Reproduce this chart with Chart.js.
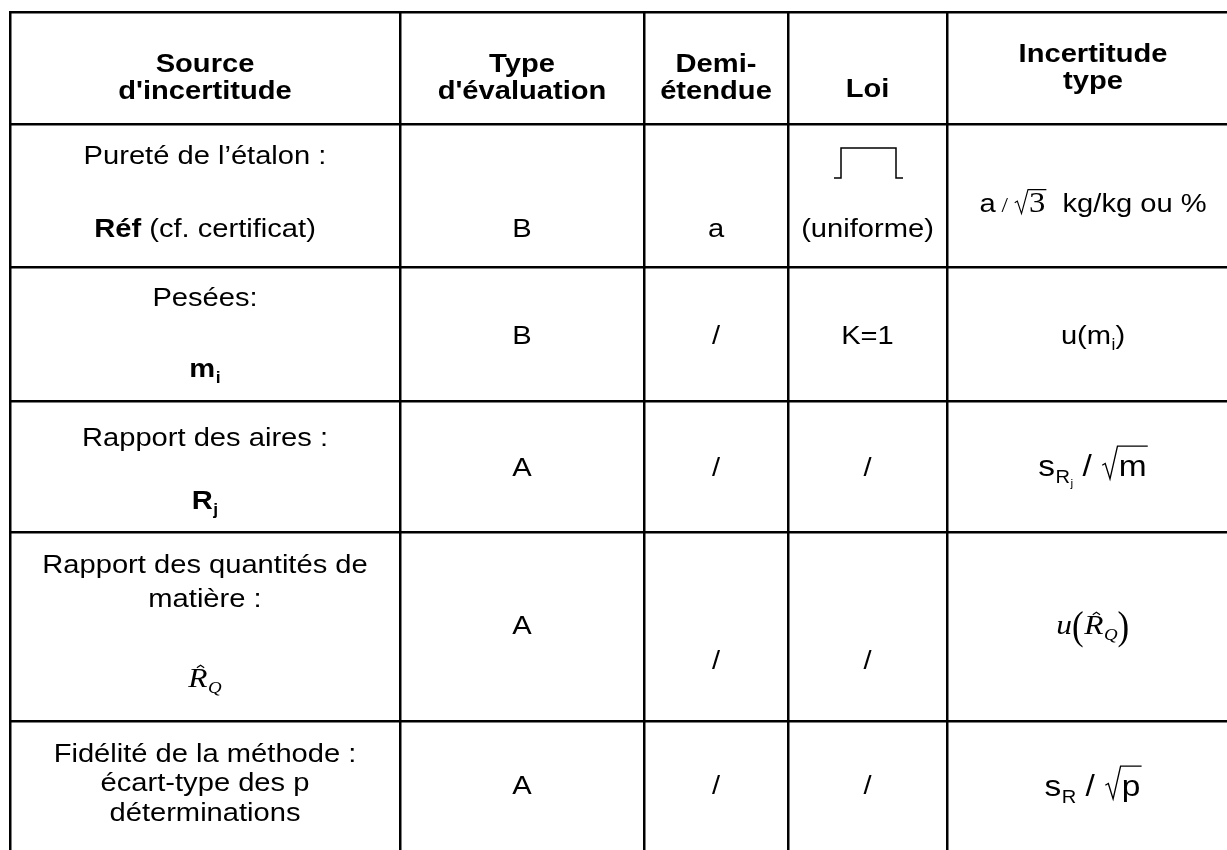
<!DOCTYPE html>
<html><head><meta charset="utf-8">
<script src="https://cdn.jsdelivr.net/npm/chart.js@4.4.1/dist/chart.umd.min.js"></script>
<style>html,body{margin:0;padding:0;background:#fff;}canvas{display:block;}</style>
</head><body>
<canvas id="c" width="1227" height="850"></canvas>
<script>
// ---------------- DATA ----------------
const headerLabels = [["Source","d'incertitude"],["Type","d'évaluation"],["Demi-","étendue"],["Loi"],["Incertitude","type"]];
const uncertaintySources = [
  ["Pureté de l’étalon :","**Réf** (cf. certificat)"],
  ["Pesées:","**m_{i}**"],
  ["Rapport des aires :","**R_{j}**"],
  ["Rapport des quantités de","matière :","$^{R}_{Q}$"],
  ["Fidélité de la méthode :","écart-type des p","déterminations"]
];
const evaluationTypes = ["B","B","A","A","A"];
const halfRanges = ["a","/","/","/","/"];
const distributionLaws = ["(uniforme)","K=1","/","/","/"];
const standardUncertainties = ["a~{ / }√{%{3}}  kg/kg ou %","u(m_{i})","&{s_{R_{j}} / √{m}}","$u\\L(^{R}_{Q}\\L)$","&{s_{R} / √{p}}"];

// ---------------- LAYOUT (table units map 1:1 to pixels) ----------------
// the right-hand border of the table lies outside the picture
const colEdges = [10, 400, 644, 788, 947, 1239];
const rowEdges = [12.5, 124.5, 267.5, 401.5, 532.5, 721.5];
const headerLineY = [[63,90],[63,90],[63,90],[88],[53,80]];
const sourceLineY = [[155,228],[297,368],[437,500],[564,598,678],[753,782,812]];
const evalY = [228,335,467,625,785];
const halfY = [228,335,467,660,785];
const lawY  = [228,335,467,660,785];
const stdY  = [203,335,467,625,787];
const pulse = {y0:148, y1:178, xl:834, x1:841, x2:896, xr:903};

const BASE = 26, SX = 1.12;
const SANS = '"Liberation Sans", Arial, sans-serif';
const SERIF = '"Liberation Serif", "Times New Roman", serif';

function parse(s){
  let i=0;
  function seq(end, style){
    const out=[]; let buf='';
    const flush=()=>{ if(buf){ out.push({t:'text',text:buf,style:{...style}}); buf=''; } };
    while(i<s.length){
      const c=s[i];
      if(end && c===end){ i++; break; }
      if(s.startsWith('**',i)){ flush(); style={...style,bold:!style.bold}; i+=2; continue; }
      if(c==='$'){ flush(); style={...style,math:!style.math}; i++; continue; }
      if(s.startsWith('_{',i)){ flush(); i+=2; out.push({t:'sub',children:seq('}',{...style})}); continue; }
      if(s.startsWith('√{',i)){ flush(); i+=2; out.push({t:'sqrt',children:seq('}',{...style})}); continue; }
      if(s.startsWith('^{',i)){ flush(); i+=2; out.push({t:'hat',children:seq('}',{...style})}); continue; }
      if(s.startsWith('~{',i)){ flush(); i+=2; out.push({t:'small',children:seq('}',{...style,serif:true})}); continue; }
      if(s.startsWith('%{',i)){ flush(); i+=2; out.push({t:'up',children:seq('}',{...style,serif:true,math:false,up:true})}); continue; }
      if(s.startsWith('&{',i)){ flush(); i+=2; out.push({t:'eq',children:seq('}',{...style})}); continue; }
      if(c==='\\' && s[i+1]==='L'){ flush(); out.push({t:'big',text:s[i+2]}); i+=3; continue; }
      buf+=c; i++;
    }
    flush(); return out;
  }
  return seq(null,{bold:false,math:false,serif:false});
}
function fontFor(st,sz){
  if(st.math) return `italic ${sz*1.08}px ${SERIF}`;
  if(st.up) return `${sz*1.12}px ${SERIF}`;
  if(st.serif) return `${sz}px ${SERIF}`;
  return `${st.bold?'bold ':''}${sz}px ${SANS}`;
}
function run(ctx,nodes,x,y,sz,draw){
  for(const n of nodes){
    if(n.t==='text'){
      ctx.font=fontFor(n.style,sz);
      const w=ctx.measureText(n.text).width*SX;
      if(draw){ ctx.save(); ctx.translate(x,y); ctx.scale(SX,1); ctx.fillText(n.text,0,0); ctx.restore(); }
      x+=w;
    } else if(n.t==='sub'){
      x=run(ctx,n.children,x+sz*0.02,y+sz*0.22,sz*0.6,draw);
    } else if(n.t==='small'){
      x=run(ctx,n.children,x,y,sz*0.8,draw);
    } else if(n.t==='up'){
      x=run(ctx,n.children,x,y,sz,draw);
    } else if(n.t==='eq'){
      x=run(ctx,n.children,x,y,sz*1.15,draw);
    } else if(n.t==='sqrt'){
      const tall = !(n.children[0] && n.children[0].t==='up');
      const x0=x, xs=x+sz*0.55;
      const xe=run(ctx,n.children,xs+sz*0.04,y,sz,false)+sz*0.04;
      if(draw){
        const top=y-sz*(tall?1.0:0.86), bot=y+sz*(tall?0.1:0.06);
        ctx.save();
        ctx.beginPath();
        ctx.moveTo(x0+sz*0.04,y-sz*0.36);
        ctx.lineTo(x0+sz*0.14,y-sz*0.42);
        ctx.lineTo(x0+sz*0.30,bot);
        ctx.lineTo(xs,top);
        ctx.lineTo(xe,top);
        ctx.lineWidth=Math.max(1,sz*0.045);
        ctx.strokeStyle='#000';
        ctx.stroke();
        ctx.restore();
        run(ctx,n.children,xs+sz*0.04,y,sz,true);
      }
      x=xe;
    } else if(n.t==='hat'){
      const x0=x;
      x=run(ctx,n.children,x,y,sz,draw);
      if(draw){
        const cx=(x0+x)/2+sz*0.1, hy=y-sz*0.84, hw=sz*0.14, hh=sz*0.1;
        ctx.save(); ctx.beginPath();
        ctx.moveTo(cx-hw,hy+hh); ctx.lineTo(cx,hy); ctx.lineTo(cx+hw,hy+hh);
        ctx.lineWidth=1.2; ctx.strokeStyle='#000'; ctx.stroke(); ctx.restore();
      }
    } else if(n.t==='big'){
      const bs=sz*1.5;
      ctx.font=`${bs}px ${SERIF}`;
      const w=ctx.measureText(n.text).width*SX*0.8;
      if(draw){ ctx.save(); ctx.translate(x,y+sz*0.2); ctx.scale(SX*0.8,1); ctx.fillText(n.text,0,0); ctx.restore(); }
      x+=w+sz*0.02;
    }
  }
  return x;
}
function drawRich(ctx,str,cx,cy,bold){
  let nodes=parse(bold?('**'+str+'**'):str);
  const w=run(ctx,nodes,0,0,BASE,false);
  run(ctx,nodes,cx-w/2,cy+9,BASE,true);
}

const tablePlugin={
  id:'tableText',
  afterDraw(chart){
    const ctx=chart.ctx, xs=chart.scales.x, ys=chart.scales.y;
    ctx.save(); ctx.fillStyle='#000'; ctx.textBaseline='alphabetic'; ctx.textAlign='left';
    const cxp=c=>xs.getPixelForValue((colEdges[c]+colEdges[c+1])/2);
    headerLabels.forEach((lines,c)=>lines.forEach((t,k)=>drawRich(ctx,t,cxp(c),ys.getPixelForValue(headerLineY[c][k]),true)));
    uncertaintySources.forEach((lines,r)=>lines.forEach((t,k)=>drawRich(ctx,t,cxp(0),ys.getPixelForValue(sourceLineY[r][k]),false)));
    evaluationTypes.forEach((t,r)=>drawRich(ctx,t,cxp(1),ys.getPixelForValue(evalY[r]),false));
    halfRanges.forEach((t,r)=>drawRich(ctx,t,cxp(2),ys.getPixelForValue(halfY[r]),false));
    distributionLaws.forEach((t,r)=>drawRich(ctx,t,cxp(3),ys.getPixelForValue(lawY[r]),false));
    standardUncertainties.forEach((t,r)=>drawRich(ctx,t,cxp(4),ys.getPixelForValue(stdY[r]),false));
    // uniform distribution symbol
    ctx.beginPath();
    ctx.moveTo(xs.getPixelForValue(pulse.xl),ys.getPixelForValue(pulse.y1));
    ctx.lineTo(xs.getPixelForValue(pulse.x1),ys.getPixelForValue(pulse.y1));
    ctx.lineTo(xs.getPixelForValue(pulse.x1),ys.getPixelForValue(pulse.y0));
    ctx.lineTo(xs.getPixelForValue(pulse.x2),ys.getPixelForValue(pulse.y0));
    ctx.lineTo(xs.getPixelForValue(pulse.x2),ys.getPixelForValue(pulse.y1));
    ctx.lineTo(xs.getPixelForValue(pulse.xr),ys.getPixelForValue(pulse.y1));
    ctx.lineWidth=1.5; ctx.strokeStyle='#000'; ctx.stroke();
    ctx.restore();
  }
};

const cellPoints=[];
for(let r=0;r<rowEdges.length;r++) for(let c=0;c<colEdges.length-1;c++)
  cellPoints.push({x:(colEdges[c]+colEdges[c+1])/2,y:(rowEdges[r]+(rowEdges[r+1]||850))/2});

new Chart(document.getElementById('c'),{
  type:'scatter',
  data:{datasets:[{data:cellPoints,pointRadius:0,showLine:false,clip:false}]},
  options:{
    responsive:false, animation:false, devicePixelRatio:1,
    layout:{padding:{left:9,right:0,top:11,bottom:0}},
    plugins:{legend:{display:false},tooltip:{enabled:false}},
    scales:{
      x:{type:'linear',min:9,max:1227,
         afterBuildTicks:s=>{s.ticks=colEdges.filter(v=>v<=1227).map(v=>({value:v}));},
         ticks:{display:false},border:{display:false},
         grid:{color:'#000',lineWidth:2.5,drawTicks:false}},
      y:{type:'linear',min:11,max:850,reverse:true,
         afterBuildTicks:s=>{s.ticks=rowEdges.map(v=>({value:v}));},
         ticks:{display:false},border:{display:false},
         grid:{color:'#000',lineWidth:2.5,drawTicks:false}}
    }
  },
  plugins:[tablePlugin]
});
</script>
</body></html>
